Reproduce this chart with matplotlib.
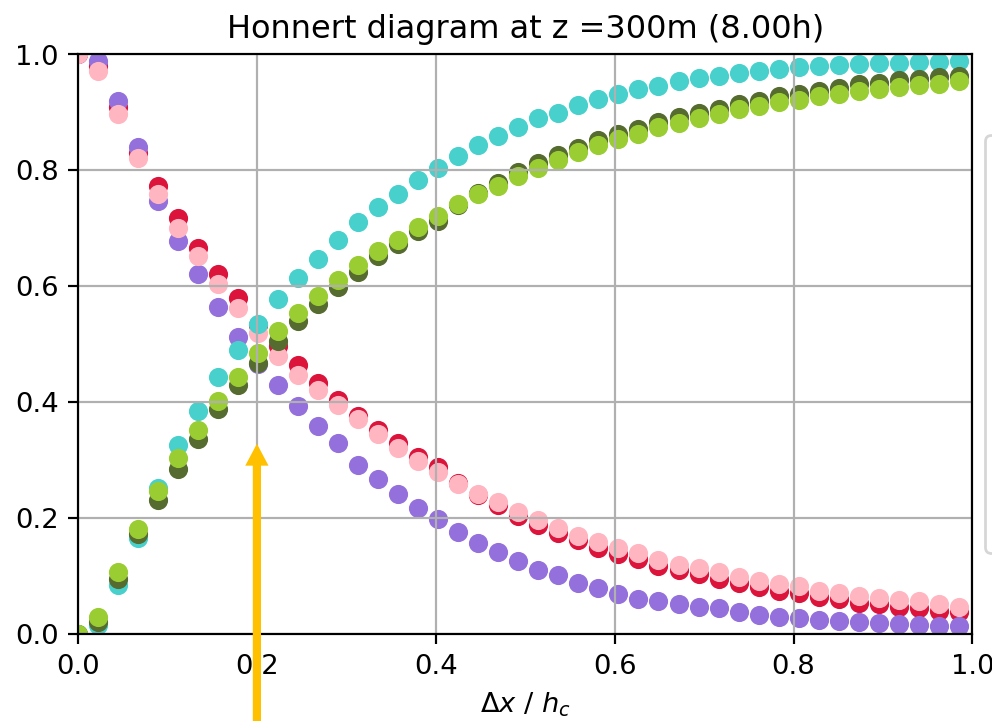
import numpy as np
import matplotlib
matplotlib.use("Agg")
import matplotlib.pyplot as plt

# x grid: dx / hc (uniform steps)
x_ratio = np.arange(45) * 0.02238

red = [1.0, 0.98, 0.908, 0.83, 0.773, 0.718, 0.666, 0.62, 0.58, 0.533,
       0.496, 0.463, 0.433, 0.403, 0.376, 0.351, 0.329, 0.305, 0.288, 0.26,
       0.24, 0.222, 0.203, 0.188, 0.174, 0.162, 0.148, 0.138, 0.129, 0.117,
       0.110, 0.104, 0.095, 0.088, 0.081, 0.074, 0.070, 0.064, 0.060, 0.053,
       0.052, 0.046, 0.045, 0.040, 0.037]

purple = [1.0, 0.988, 0.919, 0.839, 0.747, 0.678, 0.62, 0.564, 0.513, 0.466,
          0.43, 0.393, 0.358, 0.33, 0.292, 0.267, 0.241, 0.217, 0.198, 0.175,
          0.157, 0.142, 0.125, 0.111, 0.102, 0.088, 0.079, 0.069, 0.060, 0.056,
          0.051, 0.047, 0.044, 0.037, 0.033, 0.029, 0.028, 0.024, 0.023, 0.020,
          0.019, 0.017, 0.016, 0.014, 0.013]

pink = [1.0, 0.971, 0.896, 0.821, 0.758, 0.70, 0.652, 0.603, 0.563, 0.519,
        0.479, 0.447, 0.421, 0.395, 0.37, 0.344, 0.321, 0.298, 0.28, 0.258,
        0.241, 0.227, 0.211, 0.197, 0.183, 0.169, 0.158, 0.148, 0.139, 0.127,
        0.119, 0.113, 0.106, 0.098, 0.091, 0.086, 0.082, 0.074, 0.070, 0.065,
        0.062, 0.059, 0.056, 0.051, 0.047]

cyan = [0.0, 0.016, 0.085, 0.165, 0.252, 0.326, 0.385, 0.444, 0.49, 0.535,
        0.578, 0.614, 0.646, 0.679, 0.71, 0.736, 0.759, 0.783, 0.804, 0.825,
        0.843, 0.858, 0.875, 0.889, 0.898, 0.912, 0.922, 0.931, 0.940, 0.945,
        0.953, 0.958, 0.962, 0.967, 0.971, 0.974, 0.977, 0.979, 0.981, 0.983,
        0.984, 0.985, 0.986, 0.987, 0.988]

darkgreen = [0.0, 0.02, 0.095, 0.172, 0.231, 0.285, 0.336, 0.388, 0.43, 0.468,
             0.505, 0.539, 0.569, 0.599, 0.625, 0.651, 0.672, 0.695, 0.713, 0.74,
             0.76, 0.778, 0.797, 0.812, 0.826, 0.838, 0.852, 0.863, 0.871, 0.883,
             0.891, 0.898, 0.906, 0.914, 0.920, 0.928, 0.932, 0.937, 0.941, 0.948,
             0.950, 0.955, 0.957, 0.960, 0.963]

yellowgreen = [0.0, 0.03, 0.106, 0.181, 0.246, 0.303, 0.352, 0.401, 0.444, 0.485,
               0.522, 0.554, 0.582, 0.611, 0.636, 0.66, 0.679, 0.702, 0.72, 0.742,
               0.759, 0.773, 0.789, 0.803, 0.817, 0.831, 0.843, 0.853, 0.862, 0.874,
               0.882, 0.889, 0.897, 0.905, 0.911, 0.917, 0.921, 0.927, 0.932, 0.937,
               0.940, 0.943, 0.946, 0.949, 0.953]

series = [
    ("Subgrid TKE (1)", red, "crimson"),
    ("Subgrid TKE (2)", purple, "mediumpurple"),
    ("Subgrid TKE (3)", pink, "lightpink"),
    ("Resolved TKE (2)", cyan, "mediumturquoise"),
    ("Resolved TKE (1)", darkgreen, "darkolivegreen"),
    ("Resolved TKE (3)", yellowgreen, "yellowgreen"),
]

title_text = "Honnert diagram at z =300m (8.00h)"
arrow_x = 0.2
arrow_tip = 0.328

DPI = 197
fig = plt.figure(figsize=(992.4 / DPI, 721.4 / DPI), dpi=DPI)
ax = fig.add_axes([78 / 992, 1 - 634 / 721, 894 / 992, 579.5 / 721])

for label, vals, col in series:
    ax.scatter(x_ratio, vals, color=col, label=label)

ax.set_xlim(0, 1)
ax.set_ylim(0, 1)
ax.grid(True)
ax.set_title(title_text, fontsize=11.7)
ax.set_xlabel(r"$\Delta x$ / $h_c$")

ax.legend(loc="center left", bbox_to_anchor=((985 - 78) / 894, 0.5),
          borderaxespad=0, labelspacing=1.75)

ax.annotate("", xy=(arrow_x, arrow_tip), xytext=(arrow_x, -0.3),
            xycoords="data", textcoords="data", annotation_clip=False,
            arrowprops=dict(facecolor="#FFC000", edgecolor="none",
                            width=3.0, headwidth=8.5, headlength=8.0, shrink=0))

fig.savefig("out.png", dpi=DPI)
